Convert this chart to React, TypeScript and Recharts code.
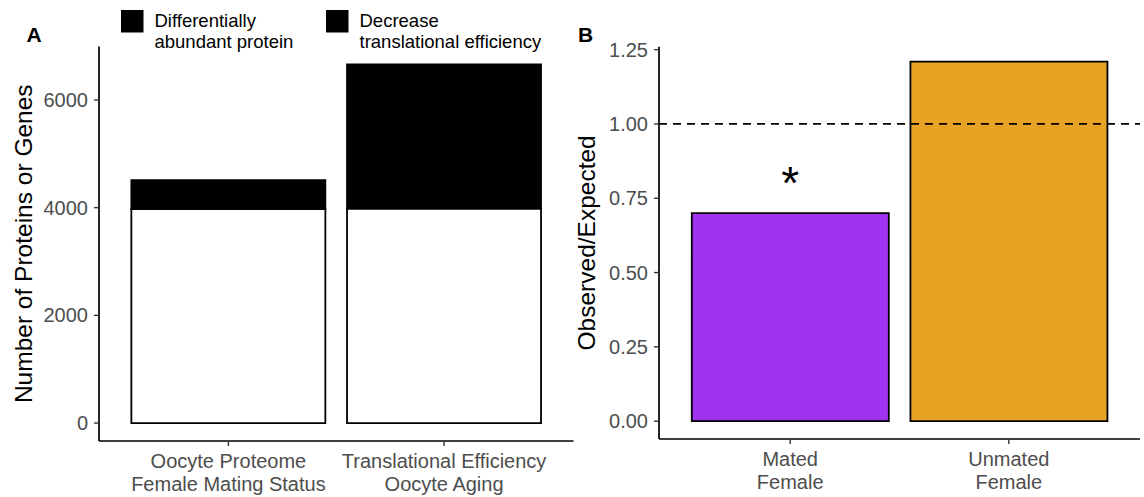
import React from "react";
import {
  BarChart,
  Bar,
  XAxis,
  YAxis,
  Legend,
  ReferenceLine,
  Cell,
  LabelList,
} from "recharts";

// ---------- Panel A data ----------
const categoriesA = [
  "Oocyte Proteome\nFemale Mating Status",
  "Translational Efficiency\nOocyte Aging",
];
const baseCounts = [3975, 3985];
const diffAbundant = [535, 0];
const decreaseTE = [0, 2675];
const seriesNamesA = [
  "Differentially\nabundant protein",
  "Decrease\ntranslational efficiency",
];
const ticksA = [0, 2000, 4000, 6000];

// ---------- Panel B data ----------
const categoriesB = ["Mated\nFemale", "Unmated\nFemale"];
const obsExp = [0.7, 1.21];
const colorsB = ["#A033F0", "#E8A325"];
const sigB = ["*", ""];
const ticksB = [0, 0.25, 0.5, 0.75, 1, 1.25];
const domainB = [-0.06, 1.26];
const expectedRatio = 1;

const dataA = categoriesA.map((c, i) => ({
  cat: c,
  base: baseCounts[i],
  diff: diffAbundant[i],
  dec: decreaseTE[i],
}));
const dataB = categoriesB.map((c, i) => ({
  cat: c,
  val: obsExp[i],
  sig: sigB[i],
}));

const TICK_GREY = "#4D4D4D";
const FONT = "'Liberation Sans', Arial, Helvetica, sans-serif";

const MultiTick = (props: any) => {
  const { x, y, payload } = props;
  const lines = String(payload.value).split("\n");
  return (
    <text x={x} y={y} textAnchor="middle" fill={TICK_GREY} fontSize={20}>
      {lines.map((l, i) => (
        <tspan key={i} x={x} dy={i === 0 ? 20 : 22.5}>
          {l}
        </tspan>
      ))}
    </text>
  );
};

const makeTitle = (text: string, cx: number) => (props: any) => {
  const vb = props.viewBox || {};
  const x = (vb.x || 0) + cx;
  const y = (vb.y || 0) + (vb.height || 0) / 2;
  return (
    <text
      x={x}
      y={y}
      transform={`rotate(-90, ${x}, ${y})`}
      textAnchor="middle"
      fontSize={24.5}
      fill="#000"
    >
      {text}
    </text>
  );
};

const renderLegend = (props: any) => {
  const items = (props.payload || [])
    .filter((p: any) => seriesNamesA.includes(String(p.value)))
    .sort(
      (a: any, b: any) =>
        seriesNamesA.indexOf(String(a.value)) - seriesNamesA.indexOf(String(b.value))
    );
  return (
    <svg width={580} height={60} style={{ display: "block" }}>
      {items.map((it: any, i: number) => {
        const sx = 121 + i * 205;
        const lines = String(it.value).split("\n");
        return (
          <g key={i}>
            <rect x={sx} y={10} width={22.5} height={22.5} fill={it.color || "#000"} />
            <text x={sx + 33.5} y={27} fontSize={18.5} fill="#000">
              {lines.map((l, j) => (
                <tspan key={j} x={sx + 33.5} dy={j === 0 ? 0 : 20.5}>
                  {l}
                </tspan>
              ))}
            </text>
          </g>
        );
      })}
    </svg>
  );
};

const maxA = Math.max(...categoriesA.map((_, i) => baseCounts[i] + diffAbundant[i] + decreaseTE[i]));
const padA = maxA * 0.05;

const plotWA = 580 - 99 - 6.5;
const unitA = plotWA / 2.2;
const plotWB = 572 - 87 - 4;
const unitB = plotWB / 2.2;

export default function App() {
  return (
    <div
      style={{
        position: "absolute",
        left: 0,
        top: 0,
        width: 1144,
        height: 497,
        background: "#fff",
        fontFamily: FONT,
      }}
    >
      <div style={{ position: "absolute", left: 0, top: 0 }}>
        <BarChart
          width={580}
          height={497}
          data={dataA}
          margin={{ top: 46.5, right: 6.5, bottom: 0, left: 0 }}
          barCategoryGap={unitA * 0.05}
        >
          <XAxis
            dataKey="cat"
            height={56}
            tick={<MultiTick />}
            tickSize={5}
            tickMargin={2}
            axisLine={{ stroke: "#000", strokeWidth: 1.7 }}
            tickLine={{ stroke: "#333", strokeWidth: 1.4 }}
            padding={{ left: unitA * 0.1, right: unitA * 0.1 }}
            interval={0}
          />
          <YAxis
            width={99}
            domain={[-padA, maxA + padA]}
            ticks={ticksA}
            allowDataOverflow
            tick={{ fill: TICK_GREY, fontSize: 20 }}
            tickSize={5}
            tickMargin={6}
            axisLine={{ stroke: "#000", strokeWidth: 1.7 }}
            tickLine={{ stroke: "#333", strokeWidth: 1.4 }}
            label={{ value: "Number of Proteins or Genes", content: makeTitle("Number of Proteins or Genes", 32) }}
          />
          <Legend
            layout="horizontal"
            verticalAlign="middle"
            align="center"
            content={renderLegend}
            wrapperStyle={{ position: "absolute", top: 0, left: 0, width: 580, height: 60 }}
          />
          <Bar dataKey="base" stackId="s" fill="#fff" stroke="#000" strokeWidth={1.8} legendType="none" isAnimationActive={false} />
          <Bar dataKey="diff" name={seriesNamesA[0]} stackId="s" fill="#000" stroke="#000" strokeWidth={1.8} isAnimationActive={false} />
          <Bar dataKey="dec" name={seriesNamesA[1]} stackId="s" fill="#000" stroke="#000" strokeWidth={1.8} isAnimationActive={false} />
        </BarChart>
      </div>

      <div style={{ position: "absolute", left: 572, top: 0 }}>
        <BarChart
          width={572}
          height={497}
          data={dataB}
          margin={{ top: 46.7, right: 4, bottom: 0, left: 0 }}
          barCategoryGap={unitB * 0.05}
        >
          <XAxis
            dataKey="cat"
            height={58}
            tick={<MultiTick />}
            tickSize={5}
            tickMargin={2}
            axisLine={{ stroke: "#000", strokeWidth: 1.7 }}
            tickLine={{ stroke: "#333", strokeWidth: 1.4 }}
            padding={{ left: unitB * 0.1, right: unitB * 0.1 }}
            interval={0}
          />
          <YAxis
            width={87}
            domain={domainB}
            ticks={ticksB}
            allowDataOverflow
            tickFormatter={(v: number) => v.toFixed(2)}
            tick={{ fill: TICK_GREY, fontSize: 20 }}
            tickSize={5}
            tickMargin={6}
            axisLine={{ stroke: "#000", strokeWidth: 1.7 }}
            tickLine={{ stroke: "#333", strokeWidth: 1.4 }}
            label={{ value: "Observed/Expected", content: makeTitle("Observed/Expected", 23) }}
          />
          <ReferenceLine y={expectedRatio} stroke="#000" strokeWidth={1.7} strokeDasharray="8 6" />
          <Bar dataKey="val" stroke="#000" strokeWidth={1.8} isAnimationActive={false}>
            {dataB.map((_, i) => (
              <Cell key={i} fill={colorsB[i]} />
            ))}
            <LabelList
              dataKey="sig"
              content={(p: any) => {
                if (!p.value) return null;
                const cx = Number(p.x) + Number(p.width) / 2;
                return (
                  <text x={cx} y={Number(p.y) - 14.5} textAnchor="middle" fontSize={46} fill="#000">
                    {p.value}
                  </text>
                );
              }}
            />
          </Bar>
        </BarChart>
      </div>

      <svg
        width={1144}
        height={60}
        style={{ position: "absolute", left: 0, top: 0, pointerEvents: "none" }}
      >
        <text x={26.5} y={42.3} fontSize={21} fontWeight="bold" fill="#000">A</text>
        <text x={578} y={42} fontSize={21} fontWeight="bold" fill="#000">B</text>
      </svg>
    </div>
  );
}
